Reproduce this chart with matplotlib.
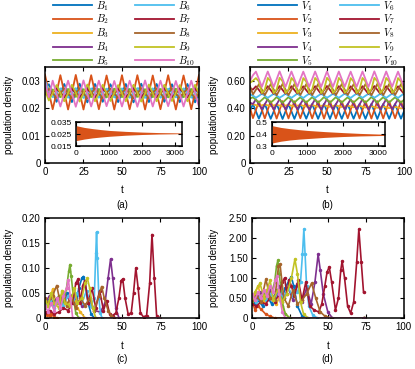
import numpy as np
import matplotlib.pyplot as plt

plt.rcParams['font.family'] = ['Liberation Sans', 'DejaVu Sans']
plt.rcParams['mathtext.fontset'] = 'cm'

colors = ['#0072BD', '#D95319', '#EDB120', '#7E2F8E', '#77AC30',
          '#4DBEEE', '#A2142F', '#A6652B', '#C2C324', '#E374C3']

# ---- (a) B densities, sampled every 2.5 time units ----
t_a = np.arange(0, 100.1, 2.5)
B1 = [0.0275, 0.0287, 0.0256, 0.0223, 0.0255, 0.0288, 0.0255, 0.0222,
      0.0256, 0.0289, 0.0254, 0.0221, 0.0255, 0.0288, 0.0256, 0.0223,
      0.0254, 0.0287, 0.0255, 0.0222, 0.0255, 0.0288, 0.0254, 0.0221,
      0.0256, 0.0289, 0.0255, 0.0222, 0.0255, 0.0288, 0.0256, 0.0223,
      0.0254, 0.0287, 0.0255, 0.0222, 0.0255, 0.0288, 0.0254, 0.0221, 0.0255]
B2 = [0.0322, 0.0258, 0.0196, 0.0256, 0.0320, 0.0258, 0.0195, 0.0257,
      0.0321, 0.0257, 0.0195, 0.0258, 0.0320, 0.0256, 0.0196, 0.0257,
      0.0319, 0.0258, 0.0195, 0.0257, 0.0320, 0.0257, 0.0196, 0.0256,
      0.0320, 0.0258, 0.0195, 0.0257, 0.0319, 0.0257, 0.0196, 0.0258,
      0.0320, 0.0256, 0.0195, 0.0257, 0.0319, 0.0258, 0.0196, 0.0257, 0.0320]
B3 = [0.0285, 0.0272, 0.0256, 0.0242, 0.0255, 0.0268, 0.0255, 0.0242,
      0.0254, 0.0269, 0.0256, 0.0243, 0.0255, 0.0268, 0.0255, 0.0242,
      0.0256, 0.0267, 0.0254, 0.0241, 0.0255, 0.0268, 0.0255, 0.0242,
      0.0254, 0.0269, 0.0256, 0.0243, 0.0255, 0.0268, 0.0255, 0.0242,
      0.0256, 0.0267, 0.0254, 0.0241, 0.0255, 0.0268, 0.0255, 0.0242, 0.0255]
B4 = [0.0262, 0.0240, 0.0257, 0.0279, 0.0258, 0.0238, 0.0258, 0.0278,
      0.0259, 0.0237, 0.0257, 0.0277, 0.0258, 0.0238, 0.0258, 0.0278,
      0.0257, 0.0239, 0.0259, 0.0279, 0.0258, 0.0238, 0.0258, 0.0278,
      0.0259, 0.0237, 0.0257, 0.0277, 0.0258, 0.0238, 0.0258, 0.0278,
      0.0257, 0.0239, 0.0259, 0.0279, 0.0258, 0.0238, 0.0258, 0.0278, 0.0258]
B5 = [0.0258, 0.0256, 0.0268, 0.0256, 0.0240, 0.0255, 0.0270, 0.0255,
      0.0241, 0.0254, 0.0269, 0.0256, 0.0240, 0.0255, 0.0270, 0.0255,
      0.0239, 0.0256, 0.0271, 0.0254, 0.0240, 0.0255, 0.0270, 0.0255,
      0.0241, 0.0254, 0.0269, 0.0256, 0.0240, 0.0255, 0.0270, 0.0255,
      0.0239, 0.0256, 0.0271, 0.0254, 0.0240, 0.0255, 0.0270, 0.0255, 0.0240]
B6 = [0.0300, 0.0262, 0.0240, 0.0256, 0.0272, 0.0255, 0.0238, 0.0255,
      0.0273, 0.0254, 0.0237, 0.0256, 0.0272, 0.0255, 0.0238, 0.0255,
      0.0271, 0.0256, 0.0239, 0.0254, 0.0272, 0.0255, 0.0238, 0.0255,
      0.0273, 0.0254, 0.0237, 0.0256, 0.0272, 0.0255, 0.0238, 0.0255,
      0.0271, 0.0256, 0.0239, 0.0254, 0.0272, 0.0255, 0.0238, 0.0255, 0.0272]
B7 = [0.0270, 0.0242, 0.0256, 0.0271, 0.0255, 0.0240, 0.0255, 0.0270,
      0.0254, 0.0241, 0.0256, 0.0269, 0.0255, 0.0240, 0.0255, 0.0270,
      0.0256, 0.0239, 0.0254, 0.0271, 0.0255, 0.0240, 0.0255, 0.0270,
      0.0254, 0.0241, 0.0256, 0.0269, 0.0255, 0.0240, 0.0255, 0.0270,
      0.0256, 0.0239, 0.0254, 0.0271, 0.0255, 0.0240, 0.0255, 0.0270, 0.0255]
B8 = [0.0250, 0.0270, 0.0255, 0.0237, 0.0254, 0.0272, 0.0254, 0.0236,
      0.0253, 0.0273, 0.0255, 0.0235, 0.0254, 0.0272, 0.0254, 0.0236,
      0.0255, 0.0271, 0.0253, 0.0237, 0.0254, 0.0272, 0.0254, 0.0236,
      0.0253, 0.0273, 0.0255, 0.0235, 0.0254, 0.0272, 0.0254, 0.0236,
      0.0255, 0.0271, 0.0253, 0.0237, 0.0254, 0.0272, 0.0254, 0.0236, 0.0254]
B9 = [0.0265, 0.0228, 0.0254, 0.0284, 0.0255, 0.0225, 0.0255, 0.0285,
      0.0256, 0.0224, 0.0254, 0.0286, 0.0255, 0.0225, 0.0255, 0.0285,
      0.0254, 0.0226, 0.0256, 0.0284, 0.0255, 0.0225, 0.0255, 0.0285,
      0.0256, 0.0224, 0.0254, 0.0286, 0.0255, 0.0225, 0.0255, 0.0285,
      0.0254, 0.0226, 0.0256, 0.0284, 0.0255, 0.0225, 0.0255, 0.0285, 0.0255]
B10 = [0.0295, 0.0240, 0.0300, 0.0253, 0.0206, 0.0253, 0.0300, 0.0254,
       0.0205, 0.0252, 0.0301, 0.0253, 0.0206, 0.0253, 0.0300, 0.0254,
       0.0207, 0.0252, 0.0299, 0.0253, 0.0206, 0.0253, 0.0300, 0.0254,
       0.0205, 0.0252, 0.0301, 0.0253, 0.0206, 0.0253, 0.0300, 0.0254,
       0.0207, 0.0252, 0.0299, 0.0253, 0.0206, 0.0253, 0.0300, 0.0254, 0.0206]
B_series = [B1, B2, B3, B4, B5, B6, B7, B8, B9, B10]

# ---- (b) V densities, 53 samples over 0..100 ----
t_b = np.linspace(0, 100, 53)
V1 = [0.380, 0.430, 0.377, 0.323, 0.376, 0.430, 0.376, 0.322, 0.375, 0.431,
      0.377, 0.321, 0.376, 0.430, 0.376, 0.322, 0.377, 0.429, 0.375, 0.323,
      0.376, 0.430, 0.376, 0.322, 0.375, 0.431, 0.377, 0.321, 0.376, 0.430,
      0.376, 0.322, 0.377, 0.429, 0.375, 0.323, 0.376, 0.430, 0.376, 0.322,
      0.375, 0.431, 0.377, 0.321, 0.376, 0.430, 0.376, 0.322, 0.377, 0.429,
      0.375, 0.323, 0.376]
V2 = [0.400, 0.327, 0.387, 0.449, 0.388, 0.325, 0.388, 0.450, 0.389, 0.324,
      0.387, 0.451, 0.388, 0.325, 0.388, 0.450, 0.387, 0.326, 0.389, 0.449,
      0.388, 0.325, 0.388, 0.450, 0.389, 0.324, 0.387, 0.451, 0.388, 0.325,
      0.388, 0.450, 0.387, 0.326, 0.389, 0.449, 0.388, 0.325, 0.388, 0.450,
      0.389, 0.324, 0.387, 0.451, 0.388, 0.325, 0.388, 0.450, 0.387, 0.326,
      0.389, 0.449, 0.388]
V3 = [0.430, 0.428, 0.422, 0.416, 0.421, 0.426, 0.420, 0.414, 0.420, 0.425,
      0.419, 0.413, 0.419, 0.424, 0.418, 0.412, 0.418, 0.423, 0.417, 0.411,
      0.417, 0.422, 0.416, 0.410, 0.416, 0.421, 0.415, 0.409, 0.415, 0.420,
      0.414, 0.408, 0.413, 0.418, 0.412, 0.406, 0.411, 0.416, 0.410, 0.404,
      0.409, 0.414, 0.408, 0.402, 0.407, 0.412, 0.406, 0.400, 0.405, 0.410,
      0.404, 0.398, 0.403]
V4 = [0.440, 0.430, 0.464, 0.428, 0.392, 0.428, 0.465, 0.428, 0.391, 0.427,
      0.466, 0.429, 0.392, 0.428, 0.465, 0.428, 0.393, 0.429, 0.464, 0.427,
      0.392, 0.428, 0.465, 0.428, 0.391, 0.427, 0.466, 0.429, 0.392, 0.428,
      0.465, 0.428, 0.393, 0.429, 0.464, 0.427, 0.392, 0.428, 0.465, 0.428,
      0.391, 0.427, 0.466, 0.429, 0.392, 0.428, 0.465, 0.428, 0.393, 0.429,
      0.464, 0.427, 0.392]
V5 = [0.470, 0.479, 0.461, 0.441, 0.460, 0.480, 0.460, 0.440, 0.459, 0.481,
      0.461, 0.439, 0.460, 0.480, 0.460, 0.440, 0.461, 0.479, 0.459, 0.441,
      0.460, 0.480, 0.460, 0.440, 0.459, 0.481, 0.461, 0.439, 0.460, 0.480,
      0.460, 0.440, 0.461, 0.479, 0.459, 0.441, 0.460, 0.480, 0.460, 0.440,
      0.459, 0.481, 0.461, 0.439, 0.460, 0.480, 0.460, 0.440, 0.461, 0.479,
      0.459, 0.441, 0.460]
V6 = [0.500, 0.491, 0.476, 0.489, 0.505, 0.490, 0.475, 0.490, 0.504, 0.491,
      0.476, 0.489, 0.505, 0.490, 0.475, 0.490, 0.506, 0.489, 0.474, 0.491,
      0.505, 0.490, 0.475, 0.490, 0.504, 0.491, 0.476, 0.489, 0.505, 0.490,
      0.475, 0.490, 0.506, 0.489, 0.474, 0.491, 0.505, 0.490, 0.475, 0.490,
      0.504, 0.491, 0.476, 0.489, 0.505, 0.490, 0.475, 0.490, 0.506, 0.489,
      0.474, 0.491, 0.505]
V7 = [0.545, 0.535, 0.559, 0.533, 0.505, 0.532, 0.560, 0.532, 0.504, 0.531,
      0.561, 0.533, 0.505, 0.532, 0.560, 0.532, 0.506, 0.533, 0.559, 0.531,
      0.505, 0.532, 0.560, 0.532, 0.504, 0.531, 0.561, 0.533, 0.505, 0.532,
      0.560, 0.532, 0.506, 0.533, 0.559, 0.531, 0.505, 0.532, 0.560, 0.532,
      0.504, 0.531, 0.561, 0.533, 0.505, 0.532, 0.560, 0.532, 0.506, 0.533,
      0.559, 0.531, 0.505]
V8 = [0.560, 0.500, 0.534, 0.574, 0.535, 0.495, 0.535, 0.575, 0.536, 0.494,
      0.534, 0.576, 0.535, 0.495, 0.535, 0.575, 0.534, 0.496, 0.536, 0.574,
      0.535, 0.495, 0.535, 0.575, 0.536, 0.494, 0.534, 0.576, 0.535, 0.495,
      0.535, 0.575, 0.534, 0.496, 0.536, 0.574, 0.535, 0.495, 0.535, 0.575,
      0.536, 0.494, 0.534, 0.576, 0.535, 0.495, 0.535, 0.575, 0.534, 0.496,
      0.536, 0.574, 0.535]
V9 = [0.585, 0.600, 0.619, 0.594, 0.510, 0.535, 0.620, 0.595, 0.509, 0.536,
      0.621, 0.596, 0.510, 0.535, 0.620, 0.595, 0.511, 0.534, 0.619, 0.594,
      0.510, 0.535, 0.620, 0.595, 0.509, 0.536, 0.621, 0.596, 0.510, 0.535,
      0.620, 0.595, 0.511, 0.534, 0.619, 0.594, 0.510, 0.535, 0.620, 0.595,
      0.509, 0.536, 0.621, 0.596, 0.510, 0.535, 0.620, 0.595, 0.511, 0.534,
      0.619, 0.594, 0.510]
V10 = [0.600, 0.640, 0.666, 0.612, 0.555, 0.611, 0.667, 0.611, 0.554, 0.610,
       0.668, 0.612, 0.555, 0.611, 0.667, 0.611, 0.556, 0.612, 0.666, 0.610,
       0.555, 0.611, 0.667, 0.611, 0.554, 0.610, 0.668, 0.612, 0.555, 0.611,
       0.667, 0.611, 0.556, 0.612, 0.666, 0.610, 0.555, 0.611, 0.667, 0.611,
       0.554, 0.610, 0.668, 0.612, 0.555, 0.611, 0.667, 0.611, 0.556, 0.612,
       0.666, 0.610, 0.555]
V_series = [V1, V2, V3, V4, V5, V6, V7, V8, V9, V10]

# ---- insets: envelope of the long run (0..3200) ----
ins_t = [0, 250, 500, 750, 1000, 1500, 2000, 2500, 3000, 3200]
insA_hi = [0.0320, 0.0305, 0.0295, 0.0287, 0.0280, 0.0272, 0.0266, 0.0262, 0.0260, 0.0259]
insA_lo = [0.0195, 0.0208, 0.0218, 0.0225, 0.0231, 0.0240, 0.0246, 0.0250, 0.0252, 0.0253]
insB_hi = [0.470, 0.455, 0.445, 0.437, 0.430, 0.420, 0.412, 0.405, 0.400, 0.399]
insB_lo = [0.325, 0.340, 0.350, 0.357, 0.362, 0.372, 0.379, 0.384, 0.387, 0.388]

# ---- (c) B densities with extinctions ----
cB1_t = [0, 2, 4, 6, 8, 10, 12, 14, 16, 18, 20, 22, 24, 25, 26, 28, 30, 32, 74]
cB1_y = [0.030, 0.036, 0.028, 0.038, 0.030, 0.042, 0.032, 0.050, 0.035, 0.048,
         0.030, 0.060, 0.080, 0.083, 0.070, 0.030, 0.008, 0.0, 0.0]
cB2_t = [0, 1, 2, 3, 4, 6, 8, 74]
cB2_y = [0.012, 0.006, 0.010, 0.004, 0.008, 0.002, 0.0, 0.0]
cB3_t = [0, 2, 5, 7, 9, 12, 14, 16, 19, 21, 23, 26, 74]
cB3_y = [0.035, 0.025, 0.058, 0.030, 0.040, 0.052, 0.025, 0.035, 0.045, 0.020, 0.012, 0.0, 0.0]
cB4_t = [0, 3, 5, 8, 11, 14, 17, 20, 24, 28, 32, 36, 39, 41, 42.6, 44, 46, 48, 74]
cB4_y = [0.030, 0.045, 0.028, 0.040, 0.030, 0.045, 0.030, 0.040, 0.025, 0.030,
         0.015, 0.012, 0.030, 0.080, 0.118, 0.080, 0.020, 0.0, 0.0]
cB5_t = [0, 3, 6, 9, 12, 14, 15.5, 16.2, 17, 18.5, 20, 22, 74]
cB5_y = [0.020, 0.035, 0.025, 0.045, 0.030, 0.060, 0.095, 0.107, 0.085, 0.040, 0.010, 0.0, 0.0]
cB6_t = [0, 3, 6, 9, 12, 15, 18, 21, 24, 27, 30, 32, 33, 33.5, 34, 35, 36, 37, 74]
cB6_y = [0.025, 0.035, 0.020, 0.040, 0.025, 0.045, 0.030, 0.050, 0.030, 0.055,
         0.025, 0.040, 0.130, 0.172, 0.120, 0.040, 0.010, 0.0, 0.0]
cB7_t = [0, 3, 6, 9, 12, 15, 18, 20, 21.5, 23, 24.5, 26, 28, 30.5, 33, 35.5, 38,
         40, 42, 44, 46, 48, 49.5, 50.5, 52, 54, 56, 57.5, 59, 60.5, 62, 64, 66,
         68, 69.5, 71, 72.5, 74]
cB7_y = [0.010, 0.015, 0.008, 0.012, 0.020, 0.015, 0.030, 0.070, 0.078, 0.030,
         0.065, 0.075, 0.030, 0.060, 0.020, 0.055, 0.015, 0.035, 0.008, 0.005,
         0.010, 0.040, 0.075, 0.078, 0.040, 0.008, 0.010, 0.050, 0.100, 0.060,
         0.010, 0.002, 0.005, 0.070, 0.167, 0.080, 0.005, 0.0]
cB8_t = [0, 2, 5, 7.6, 10, 12, 14, 17, 20, 23, 26, 29, 32, 35, 36.8, 38.5, 41, 43, 45, 74]
cB8_y = [0.040, 0.030, 0.045, 0.065, 0.030, 0.050, 0.025, 0.045, 0.020, 0.040,
         0.025, 0.040, 0.015, 0.045, 0.063, 0.040, 0.015, 0.005, 0.0, 0.0]
cB9_t = [0, 2, 4, 6, 9, 11, 13, 16, 19, 21, 24, 26, 27.5, 29, 31, 33, 74]
cB9_y = [0.035, 0.025, 0.050, 0.030, 0.020, 0.055, 0.030, 0.025, 0.060, 0.030,
         0.040, 0.070, 0.080, 0.060, 0.020, 0.0, 0.0]
cB10_t = [0, 2, 4, 6, 8, 10, 12, 14, 15.2, 16.5, 18, 74]
cB10_y = [0.025, 0.012, 0.030, 0.015, 0.040, 0.020, 0.045, 0.060, 0.077, 0.040, 0.0, 0.0]
c_series = [(cB1_t, cB1_y), (cB2_t, cB2_y), (cB3_t, cB3_y), (cB4_t, cB4_y),
            (cB5_t, cB5_y), (cB6_t, cB6_y), (cB7_t, cB7_y), (cB8_t, cB8_y),
            (cB9_t, cB9_y), (cB10_t, cB10_y)]

# ---- (d) V densities with extinctions ----
dV1_t = [0, 2, 4, 7, 10, 13, 16, 19, 22, 24.5, 26, 27.5, 30, 33, 36, 74]
dV1_y = [0.45, 0.38, 0.45, 0.30, 0.55, 0.35, 0.70, 0.40, 0.75, 0.95, 1.03, 0.80,
         0.30, 0.05, 0.0, 0.0]
dV2_t = [0, 2, 4, 6, 9, 12, 15, 74]
dV2_y = [0.45, 0.20, 0.30, 0.22, 0.10, 0.04, 0.0, 0.0]
dV3_t = [0, 2, 4, 6, 8, 10, 12, 14, 16, 18, 20, 22, 25, 74]
dV3_y = [0.50, 0.60, 0.80, 0.55, 0.40, 0.55, 0.70, 0.45, 0.35, 0.50, 0.30, 0.10, 0.0, 0.0]
dV4_t = [0, 3, 6, 9, 12, 15, 18, 21, 24, 27, 30, 33, 36, 39, 41.5, 43.6, 45, 47,
         50, 53, 74]
dV4_y = [0.55, 0.45, 0.65, 0.50, 0.70, 0.45, 0.80, 0.50, 0.75, 0.45, 0.85, 0.40,
         0.75, 0.35, 0.90, 1.59, 1.20, 0.60, 0.15, 0.0, 0.0]
dV5_t = [0, 3, 6, 9, 12, 15, 16.2, 17.1, 18, 20, 22, 25, 74]
dV5_y = [0.40, 0.55, 0.45, 0.65, 0.50, 0.90, 1.30, 1.44, 1.10, 0.40, 0.10, 0.0, 0.0]
dV6_t = [0, 3, 6, 9, 12, 15, 18, 21, 24, 27, 30, 32, 33.3, 34.2, 35, 36, 37.5,
         40, 43, 74]
dV6_y = [0.50, 0.40, 0.55, 0.45, 0.60, 0.45, 0.65, 0.50, 0.75, 0.55, 0.65, 0.90,
         1.60, 2.22, 1.60, 0.80, 0.30, 0.08, 0.0, 0.0]
dV7_t = [0, 3, 6, 9, 12, 15, 18, 20, 21.5, 23, 24.5, 26, 28, 30.5, 33, 35.5, 38,
         41, 44, 46, 48, 49.5, 50.9, 52.5, 55, 57, 58.5, 59.4, 61, 63, 65, 67,
         69, 70.4, 72, 73.5]
dV7_y = [0.35, 0.30, 0.40, 0.35, 0.50, 0.40, 0.60, 0.90, 1.00, 0.60, 0.95, 0.80,
         0.55, 0.95, 0.45, 0.90, 0.30, 0.20, 0.15, 0.35, 0.80, 1.15, 1.28, 0.90,
         0.20, 0.50, 1.20, 1.42, 1.00, 0.30, 0.12, 0.40, 1.40, 2.22, 1.40, 0.64]
dV8_t = [0, 3, 6, 9.2, 12, 15, 17.5, 18.5, 21, 24, 27, 30, 33, 36, 39.3, 42, 45,
         48, 52, 74]
dV8_y = [0.45, 0.55, 0.40, 0.97, 0.50, 0.45, 1.30, 1.35, 0.50, 0.30, 0.70, 0.35,
         0.45, 0.60, 0.87, 0.50, 0.15, 0.05, 0.0, 0.0]
dV9_t = [0, 2, 5.3, 8, 10, 12, 14, 17, 20, 23, 26, 28.3, 30, 32, 34, 37, 74]
dV9_y = [0.50, 0.65, 0.87, 0.50, 0.70, 0.95, 0.45, 0.70, 0.40, 0.60, 1.00, 1.47,
         1.10, 0.40, 0.10, 0.0, 0.0]
dV10_t = [0, 2, 4, 6, 8, 10, 12, 14, 15.5, 16.5, 18, 20, 22, 74]
dV10_y = [0.60, 0.45, 0.65, 0.50, 0.70, 0.55, 0.80, 0.65, 0.95, 1.05, 0.60, 0.15, 0.0, 0.0]
d_series = [(dV1_t, dV1_y), (dV2_t, dV2_y), (dV3_t, dV3_y), (dV4_t, dV4_y),
            (dV5_t, dV5_y), (dV6_t, dV6_y), (dV7_t, dV7_y), (dV8_t, dV8_y),
            (dV9_t, dV9_y), (dV10_t, dV10_y)]


def style(ax, fs=7):
    ax.tick_params(direction='in', top=True, right=True, length=3, width=0.8,
                   labelsize=fs, pad=3)
    for s in ax.spines.values():
        s.set_linewidth(1.1)


fig = plt.figure(figsize=(4.15, 3.69), dpi=100)

ax_a = fig.add_axes([0.1084, 0.5583, 0.371, 0.2602])
ax_b = fig.add_axes([0.6024, 0.5583, 0.371, 0.2602])
ax_c = fig.add_axes([0.1084, 0.1382, 0.371, 0.2710])
ax_d = fig.add_axes([0.6070, 0.1382, 0.366, 0.2710])

for k in range(10):
    ax_a.plot(t_a, B_series[k], color=colors[k], lw=1.3, label=r'$B_{%d}$' % (k + 1))
    ax_b.plot(t_b, V_series[k], color=colors[k], lw=1.3, label=r'$V_{%d}$' % (k + 1))
    ax_c.plot(c_series[k][0], c_series[k][1], color=colors[k], lw=1.2,
              marker='.', ms=3)
    ax_d.plot(d_series[k][0], d_series[k][1], color=colors[k], lw=1.2,
              marker='.', ms=3)

ax_a.set_ylim(0, 0.035)
ax_a.set_yticks([0, 0.01, 0.02, 0.03])
ax_a.set_yticklabels(['0', '0.01', '0.02', '0.03'])
ax_b.set_ylim(0, 0.7)
ax_b.set_yticks([0, 0.2, 0.4, 0.6])
ax_b.set_yticklabels(['0', '0.20', '0.40', '0.60'])
ax_c.set_ylim(0, 0.2)
ax_c.set_yticks([0, 0.05, 0.10, 0.15, 0.20])
ax_c.set_yticklabels(['0', '0.05', '0.10', '0.15', '0.20'])
ax_d.set_ylim(0, 2.5)
ax_d.set_yticks([0, 0.5, 1.0, 1.5, 2.0, 2.5])
ax_d.set_yticklabels(['0', '0.50', '1.00', '1.50', '2.00', '2.50'])

for ax in [ax_a, ax_b, ax_c, ax_d]:
    ax.set_xlim(0, 100)
    ax.set_xticks([0, 25, 50, 75, 100])
    style(ax)
    ax.set_xlabel('t', fontsize=7, labelpad=6)
    ax.set_ylabel('population density', fontsize=7)

ax_a.yaxis.set_label_coords(-0.20, 0.5)
ax_b.yaxis.set_label_coords(-0.20, 0.5)
ax_c.yaxis.set_label_coords(-0.20, 0.5)
ax_d.yaxis.set_label_coords(-0.217, 0.5)

fig.text(0.294, 0.444, '(a)', ha='center', va='center', fontsize=7)
fig.text(0.788, 0.444, '(b)', ha='center', va='center', fontsize=7)
fig.text(0.294, 0.027, '(c)', ha='center', va='center', fontsize=7)
fig.text(0.788, 0.027, '(d)', ha='center', va='center', fontsize=7)

# insets
in_a = fig.add_axes([0.1831, 0.6043, 0.2554, 0.065])
in_a.fill_between(ins_t, insA_lo, insA_hi, color='#D95319', lw=0)
in_a.set_xlim(0, 3200)
in_a.set_ylim(0.015, 0.035)
in_a.set_yticks([0.015, 0.025, 0.035])
in_a.set_yticklabels(['0.015', '0.025', '0.035'])
in_a.set_xticks([0, 1000, 2000, 3000])
style(in_a, fs=6)

in_b = fig.add_axes([0.6554, 0.6043, 0.2723, 0.065])
in_b.fill_between(ins_t, insB_lo, insB_hi, color='#D95319', lw=0)
in_b.set_xlim(0, 3200)
in_b.set_ylim(0.3, 0.5)
in_b.set_yticks([0.3, 0.4, 0.5])
in_b.set_yticklabels(['0.3', '0.4', '0.5'])
in_b.set_xticks([0, 1000, 2000, 3000])
style(in_b, fs=6)

# legends: one per column so each column sits where the reference puts it
leg_kw = dict(loc='upper left', ncol=1, frameon=False, fontsize=7.5,
              handlelength=3.7, handletextpad=0.45, labelspacing=0.0,
              borderpad=0, borderaxespad=0)
h, l = ax_a.get_legend_handles_labels()
fig.legend(h[:5], l[:5], bbox_to_anchor=(53 / 415, 1.003), **leg_kw)
fig.legend(h[5:], l[5:], bbox_to_anchor=(135 / 415, 1.003), **leg_kw)
h, l = ax_b.get_legend_handles_labels()
fig.legend(h[:5], l[:5], bbox_to_anchor=(258 / 415, 1.003), **leg_kw)
fig.legend(h[5:], l[5:], bbox_to_anchor=(340 / 415, 1.003), **leg_kw)

fig.savefig('out.png', dpi=100)
